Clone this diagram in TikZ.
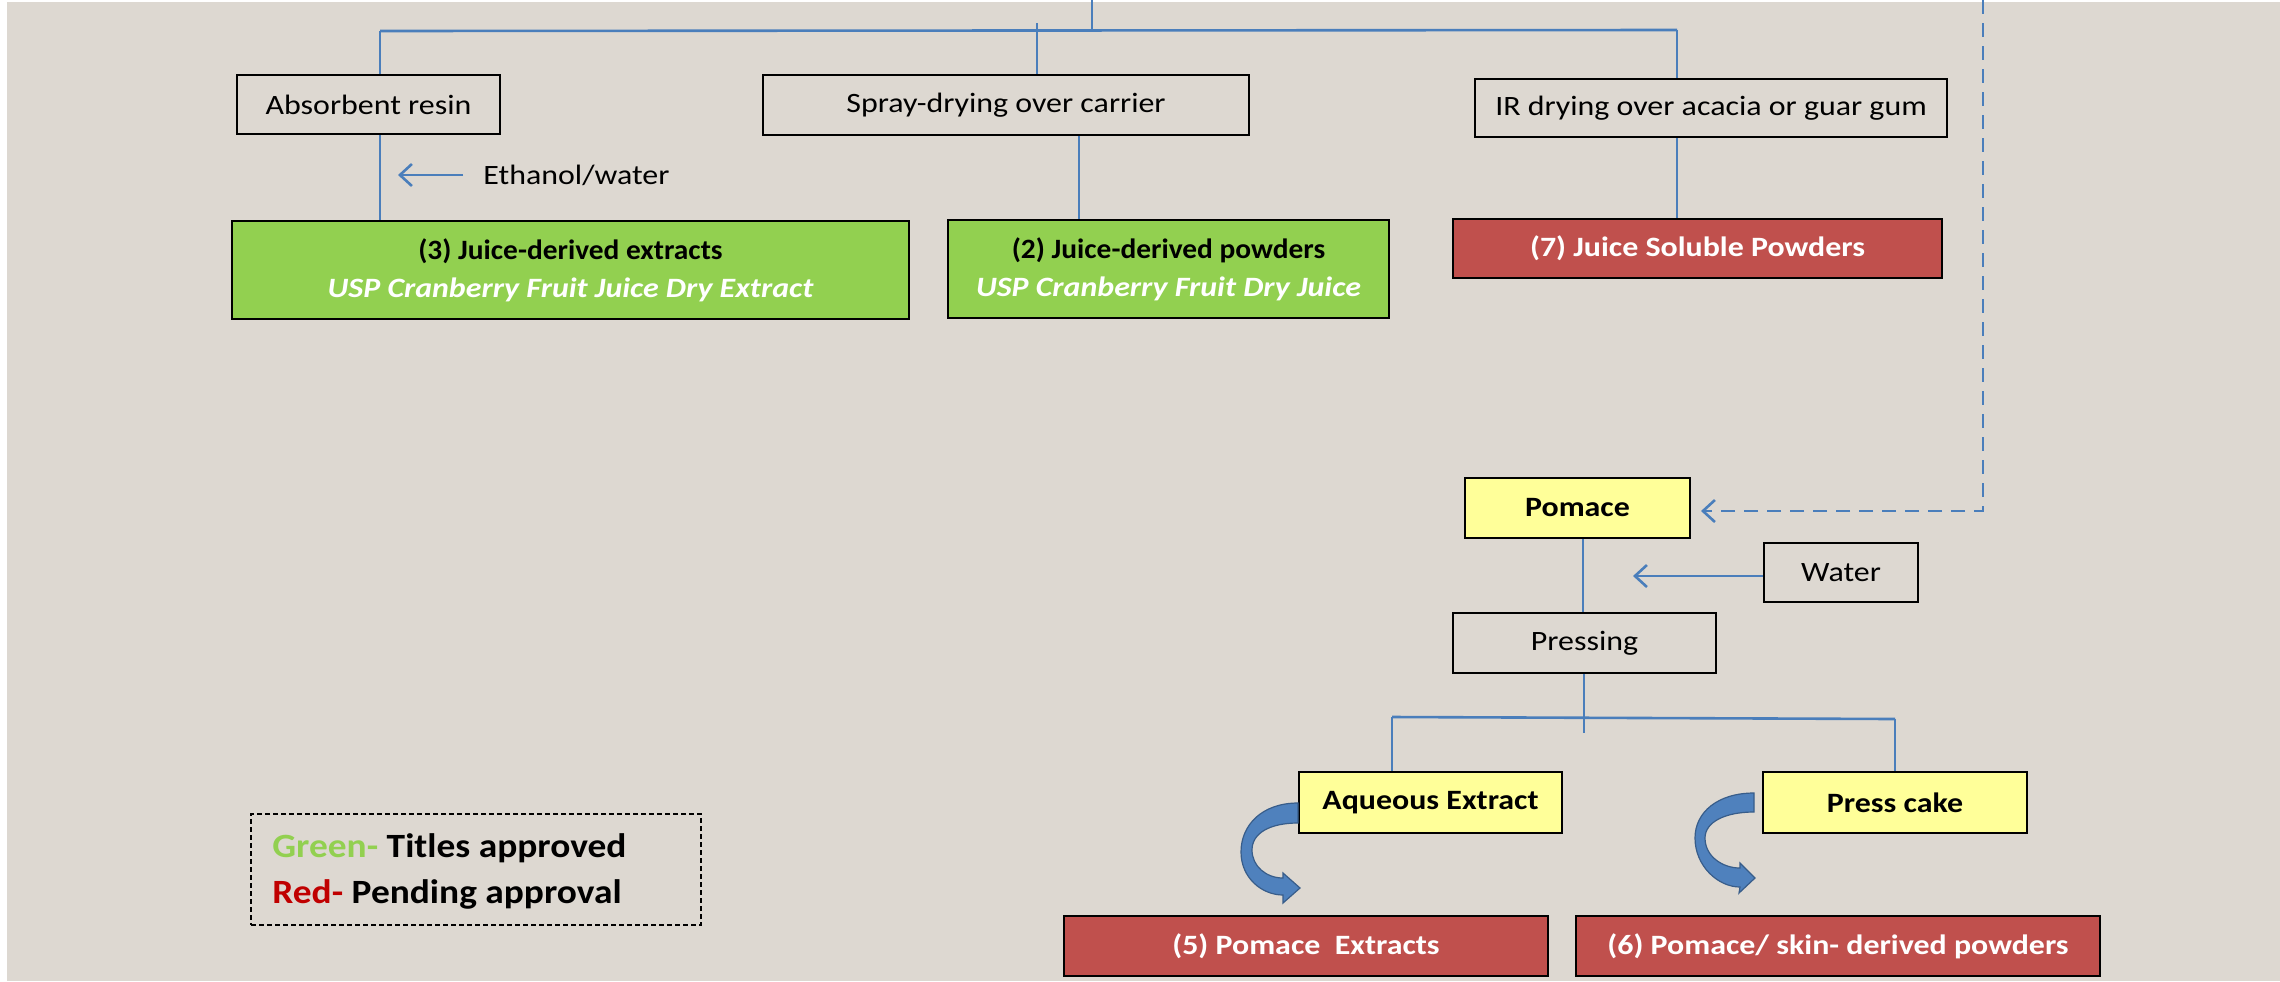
\documentclass[tikz,border=0pt]{standalone}
\usepackage{fontspec}
\setmainfont{Carlito}[FakeStretch=1.14]
\newfontfamily\titlefont{Carlito}[FakeStretch=1.05]
\newfontfamily\legfont{Carlito}[FakeStretch=1.10]
\usetikzlibrary{arrows.meta,calc}
\definecolor{bgc}{RGB}{221,216,209}
\definecolor{lineblue}{HTML}{4A7EBB}
\definecolor{boxgreen}{HTML}{92D050}
\definecolor{boxred}{HTML}{C0504D}
\definecolor{boxyellow}{HTML}{FFFF99}
\definecolor{legred}{HTML}{C00000}
\definecolor{arrowblue}{HTML}{4F81BD}
\definecolor{arrowedge}{HTML}{385D8A}
\tikzset{
  stepbox/.style={draw=black, line width=1pt, inner sep=0pt, align=center,
    font=\fontsize{14}{19}\selectfont},
  plainbox/.style={stepbox, fill=bgc},
  greenbox/.style={stepbox, fill=boxgreen},
  redbox/.style={stepbox, fill=boxred, text=white, font=\fontsize{14}{19}\selectfont\bfseries},
  yellowbox/.style={stepbox, fill=boxyellow, font=\fontsize{14}{19}\selectfont\bfseries},
  bl/.style={draw=lineblue, line width=1.3pt},
  barrow/.style={bl, -{Straight Barb[length=6pt,width=11pt,line width=1.3pt]}},
  dashline/.style={bl, dash pattern=on 7pt off 4.5pt},
  curvearrow/.style={fill=arrowblue, draw=arrowedge, line width=0.6pt},
}
\begin{document}
\begin{tikzpicture}[x=0.5pt,y=-0.5pt]
\useasboundingbox (0,0) rectangle (2280,981);
\fill[white] (0,0) rectangle (2280,981);
\fill[bgc] (7,2) rectangle (2280,981);

% boxes
\node[plainbox, minimum width=131.5pt, minimum height=29.5pt] (absorb) at (368.5,104.5) {Absorbent resin};
\node[plainbox, minimum width=243pt, minimum height=30pt] (spray) at (1006,105) {Spray-drying over carrier};
\node[plainbox, minimum width=236pt, minimum height=29pt] (ir) at (1711,108) {IR drying over acacia or guar gum};
\node[greenbox, minimum width=338.5pt, minimum height=49pt] (g3) at (570.5,270)
  {{\titlefont\bfseries (3) Juice-derived extracts}\\\textcolor{white}{\bfseries\itshape USP Cranberry Fruit Juice Dry Extract}};
\node[greenbox, minimum width=220.5pt, minimum height=49pt] (g2) at (1168.5,269)
  {{\titlefont\bfseries (2) Juice-derived powders}\\\textcolor{white}{\bfseries\itshape USP Cranberry Fruit Dry Juice}};
\node[redbox, minimum width=244.5pt, minimum height=29.5pt] (r7) at (1697.5,248.5) {(7) Juice Soluble Powders};
\node[yellowbox, minimum width=112.5pt, minimum height=30pt] (pomace) at (1577.5,508) {Pomace};
\node[plainbox, minimum width=77pt, minimum height=29.5pt] (water) at (1841,572.5) {Water};
\node[plainbox, minimum width=131.5pt, minimum height=30pt] (pressing) at (1584.5,643) {Pressing};
\node[yellowbox, minimum width=131.5pt, minimum height=30.5pt] (aqueous) at (1430.5,802.5) {Aqueous Extract};
\node[yellowbox, minimum width=132pt, minimum height=30.5pt] (presscake) at (1895,802.5) {Press cake};
\node[redbox, minimum width=242pt, minimum height=30pt] (r5) at (1306,946) {(5) Pomace\ \ Extracts};
\node[redbox, minimum width=262pt, minimum height=30pt] (r6) at (1838,946) {(6) Pomace/ skin- derived powders};

\node[anchor=west, inner sep=10pt, font=\fontsize{14}{19}\selectfont] (eth) at (463,175) {Ethanol/water};

% legend
\node[draw=black, line width=1pt, dash pattern=on 2.5pt off 1.5pt, minimum width=225pt, minimum height=55.5pt, inner sep=0pt] (legend) at (476,869.5) {};
\node[anchor=west, inner sep=0pt, align=left, font=\legfont\fontsize{17}{23}\selectfont\bfseries] (legtext) at (272,871)
  {\textcolor{boxgreen}{Green-} Titles approved\\\textcolor{legred}{Red-} Pending approval};

% coordinates
\coordinate (topin) at (1092,0);
\coordinate (topj) at (1092,31);
\coordinate (hl) at (380,31);
\coordinate (hr) at (1677,30);
\coordinate (sj) at (1037,23);
\coordinate (sx) at (1079,0);
\coordinate (ethend) at (398,175);
\coordinate (dtop) at (1983,0);
\coordinate (pj) at (1583,0);
\coordinate (pb) at (1584,733);
\coordinate (hl2) at (1392,717);
\coordinate (hr2) at (1895,719);
\coordinate (wend) at (1633,576);

% connectors
\draw[bl] (topin) -- (topj);
\draw[bl] (hl) -- (hr);
\draw[bl] (hl) -- (hl |- absorb.north);
\draw[bl] (sj) -- (sj |- spray.north);
\draw[bl] (hr) -- (hr |- ir.north);
\draw[bl] (absorb.south -| hl) -- (g3.north -| hl);
\draw[bl] (spray.south -| sx) -- (g2.north -| sx);
\draw[bl] (ir.south -| hr) -- (r7.north -| hr);
\draw[barrow] (eth.west) -- (ethend);
\draw[dashline, -{Straight Barb[length=6pt,width=11pt,line width=1.3pt]}] (dtop) |- ([xshift=5pt,yshift=-1.5pt]pomace.east);
\draw[bl] (pomace.south -| pj) -- (pressing.north -| pj);
\draw[barrow] (water.west |- wend) -- (wend);
\draw[bl] (pressing.south -| pb) -- (pb);
\draw[bl] (hl2) -- (hr2);
\draw[bl] (hl2) -- (aqueous.north -| hl2);
\draw[bl] (hr2) -- (presscake.north -| hr2);

% curved arrows
\draw[curvearrow] (1298,803) .. controls (1262,803) and (1241,825) .. (1241,852)
  .. controls (1241,878) and (1262,895) .. (1283,895) -- (1283,903) -- (1300,888) -- (1283,873) -- (1283,878)
  .. controls (1266,878) and (1252,866) .. (1252,850)
  .. controls (1252,833) and (1270,823) .. (1298,823) -- cycle;
\draw[curvearrow] (1754,793) .. controls (1718,793) and (1695,812) .. (1695,838)
  .. controls (1695,866) and (1718,887) .. (1740,887) -- (1739,893) -- (1755,878) -- (1740,863) -- (1740,868)
  .. controls (1722,868) and (1705,856) .. (1705,838)
  .. controls (1705,822) and (1725,812) .. (1754,812) -- cycle;
\end{tikzpicture}
\end{document}
